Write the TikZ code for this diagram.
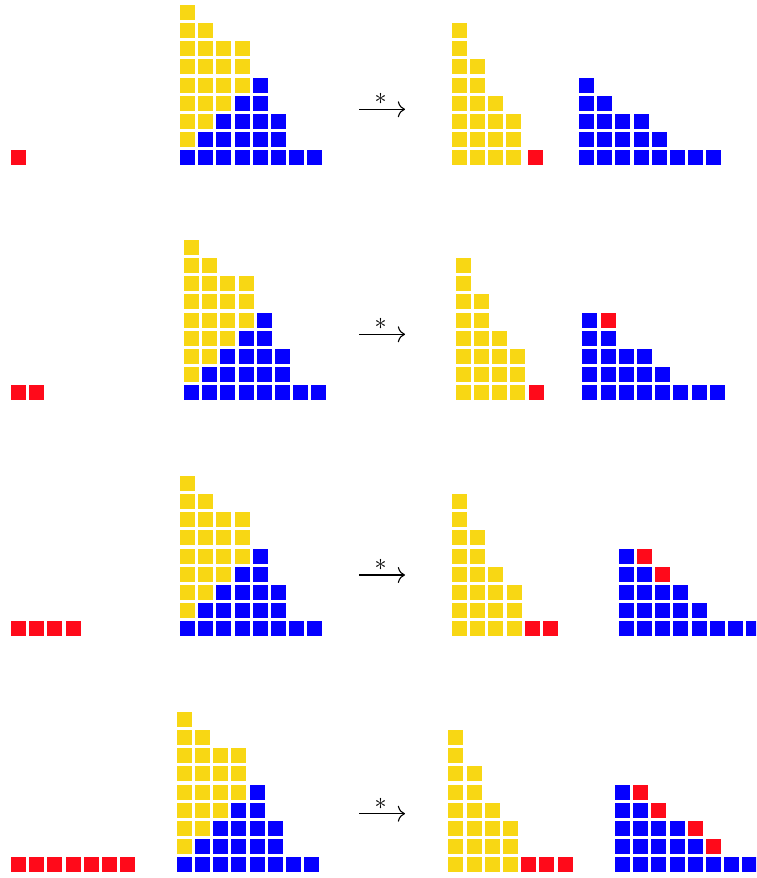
\documentclass[tikz,border=0pt]{standalone}
\usetikzlibrary{arrows.meta}
\definecolor{ccyellow}{HTML}{F8D714}
\definecolor{ccblue}{HTML}{0500FF}
\definecolor{ccred}{HTML}{FF0A1A}
\tikzset{
  cc arrow/.style={-{Computer Modern Rightarrow[length=3.6pt,width=8pt]}, line width=0.55pt, draw=black},
  cc star/.style={font=\large, inner sep=0pt}
}
% one square of a diagram: colour, column, row
\newcommand\cellbox[3]{\fill[#1] ({#2*18.2},{#3*18.1}) rectangle ++(15,15);}
% yellow skew part over the blue partition
\newcommand\staircase{%
  \foreach \r/\a/\b in {0/0/7,1/1/5,2/2/5,3/3/4,4/4/4} {\foreach \i in {\a,...,\b} {\cellbox{ccblue}{\i}{\r}}}
  \foreach \c/\a/\b in {0/1/8,1/2/7,2/3/6,3/4/6} {\foreach \j in {\a,...,\b} {\cellbox{ccyellow}{\c}{\j}}}}
\newcommand\yellowpart{%
  \foreach \c/\n in {0/7,1/5,2/3,3/2} {\foreach \j in {0,...,\n} {\cellbox{ccyellow}{\c}{\j}}}}
\newcommand\bluepart{%
  \foreach \r/\n in {0/7,1/4,2/3,3/1,4/0} {\foreach \i in {0,...,\n} {\cellbox{ccblue}{\i}{\r}}}}

\begin{document}
\begin{tikzpicture}[x=0.5pt, y=0.5pt]
  \useasboundingbox (0,0) rectangle (756,878);
  \clip (0,0) rectangle (756,878);

  % four rows: base line, left of staircase, yellow, blue, red count, arrow height, red shift
  \foreach \k/\Y/\xa/\xb/\xc/\nl/\ay/\rs in {1/713/180/451.7/579/0/768.7/3.2,
      2/478/184/455.7/582.3/1/543.7/0, 3/242/180/452/618.7/3/303/0, 4/6/176.7/448.3/615/6/64.3/0} {
    \begin{scope}[shift={(11,\Y)}]
      \foreach \i in {0,...,\nl} {\cellbox{ccred}{\i}{0}}
    \end{scope}
    \begin{scope}[shift={(\xa,\Y)}] \staircase \end{scope}
    \begin{scope}[shift={(\xb,\Y)}] \yellowpart \end{scope}
    \begin{scope}[shift={(\xb+\rs,\Y)}] \cellbox{ccred}{4}{0} \end{scope}
    \begin{scope}[shift={(\xc,\Y)}] \bluepart \end{scope}
    \coordinate (from\k) at (359,\ay);
    \coordinate (to\k) at (405,\ay);
    \draw[cc arrow] (from\k) -- (to\k);
    \node[cc star] (star\k) at (380.5,\ay+10) {$*$};
  }

  % red squares added in rows 2 to 4
  \begin{scope}[shift={(582.3,478)}] \cellbox{ccred}{1}{4} \end{scope}
  \begin{scope}[shift={(452,242)}] \cellbox{ccred}{5}{0} \end{scope}
  \begin{scope}[shift={(618.7,242)}] \cellbox{ccred}{1}{4} \cellbox{ccred}{2}{3} \end{scope}
  \begin{scope}[shift={(448.3,6)}] \cellbox{ccred}{5}{0} \cellbox{ccred}{6}{0} \end{scope}
  \begin{scope}[shift={(615,6)}]
    \cellbox{ccred}{1}{4} \cellbox{ccred}{2}{3} \cellbox{ccred}{4}{2} \cellbox{ccred}{5}{1}
  \end{scope}
\end{tikzpicture}
\end{document}
